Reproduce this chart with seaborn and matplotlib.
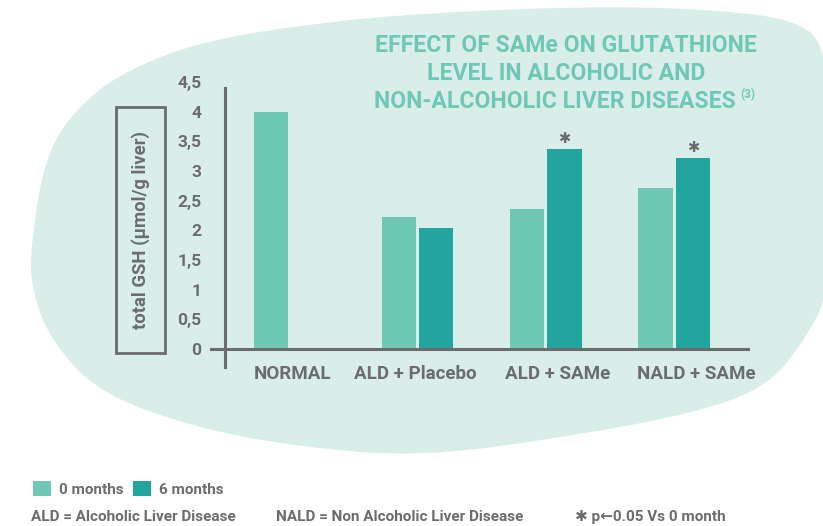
import numpy as np
import pandas as pd
import seaborn as sns
import matplotlib.pyplot as plt
import matplotlib.patches as mpatches
from matplotlib.path import Path
from matplotlib.transforms import ScaledTranslation
from matplotlib.ticker import FuncFormatter

OUTPUT_FILE = "out.png"

# data
groups = ["NORMAL", "ALD + Placebo", "ALD + SAMe", "NALD + SAMe"]
months_0 = [4.00, 2.23, 2.36, 2.71]
months_6 = [np.nan, 2.04, 3.37, 3.22]
significant_6 = [False, False, True, True]
series_names = ["0 months", "6 months"]
y_ticks = [0, 0.5, 1, 1.5, 2, 2.5, 3, 3.5, 4, 4.5]

title_lines = ["EFFECT OF SAMe ON GLUTATHIONE",
               "LEVEL IN ALCOHOLIC AND",
               "NON-ALCOHOLIC LIVER DISEASES"]
title_ref = "(3)"
y_label = "total GSH (µmol/g liver)"
notes = ["ALD = Alcoholic Liver Disease",
         "NALD = Non Alcoholic Liver Disease",
         "\u2731 p\u21900.05 Vs 0 month"]

# colours
LIGHT = "#6fc8b5"
DARK = "#23a59f"
BLOB = "#daeee9"
GREY = "#6b6c6e"

df = pd.DataFrame({
    "Group": groups * 2,
    "Period": [series_names[0]] * 4 + [series_names[1]] * 4,
    "GSH": months_0 + months_6,
})

W, H = 823, 526


def px(x, y):
    # pixel position (top-left origin) -> figure fraction
    return x / W, 1 - y / H


sns.set_style("white")
plt.rcParams["font.family"] = ["Roboto", "DejaVu Sans"]
plt.rcParams["font.weight"] = "bold"

fig = plt.figure(figsize=(W / 100, H / 100), dpi=100)

# ---- background blob (decoration) ----
blob_pts = [(30, 250), (46, 150), (86, 98), (132, 68), (200, 42), (300, 25),
            (420, 13), (600, 6), (720, 10), (795, 20), (826, 45), (832, 150),
            (830, 290), (808, 335), (770, 385), (700, 412), (567, 437),
            (420, 457), (300, 447), (200, 429), (100, 394), (50, 340), (32, 290)]
ctrl = [px(x, y) for x, y in blob_pts]
n = len(ctrl)
mid = lambda a, b: ((a[0] + b[0]) / 2, (a[1] + b[1]) / 2)
verts = [mid(ctrl[-1], ctrl[0])]
codes = [Path.MOVETO]
for i in range(n):
    verts += [ctrl[i], mid(ctrl[i], ctrl[(i + 1) % n])]
    codes += [Path.CURVE3, Path.CURVE3]
verts.append(verts[0])
codes.append(Path.CLOSEPOLY)
fig.patches.append(mpatches.PathPatch(Path(verts, codes), transform=fig.transFigure,
                                      facecolor=BLOB, edgecolor="none", zorder=-5))

# ---- axes ----
l, b = px(211, 367)
r, t = px(748, 79)
ax = fig.add_axes([l, b, r - l, t - b])
ax.patch.set_alpha(0)

sns.barplot(data=df, x="Group", y="GSH", hue="Period", order=groups,
            hue_order=series_names, palette=[LIGHT, DARK], width=0.58, gap=0.08,
            saturation=1, errorbar=None, linewidth=0, ax=ax)

ax.set_xlim(-0.61, 3.575)
ax.set_ylim(-0.3, 4.55)
ax.set_xlabel("")
ax.set_ylabel("")

for s in ["top", "right"]:
    ax.spines[s].set_visible(False)
ax.spines["bottom"].set_position(("data", 0))
ax.spines["left"].set_position(("data", -0.5))
ax.spines["left"].set_bounds(-0.3, 4.4)
for s in ["bottom", "left"]:
    ax.spines[s].set_color(GREY)
    ax.spines[s].set_linewidth(2.2)
    ax.spines[s].set_zorder(5)

ax.set_yticks(y_ticks)
ax.yaxis.set_major_formatter(FuncFormatter(lambda v, p: f"{v:g}".replace(".", ",")))
ax.tick_params(axis="y", length=0, pad=17, labelsize=12.5, labelcolor=GREY)
ax.tick_params(axis="x", length=0, pad=11.5, labelsize=13.5, labelcolor=GREY)
for lab in ax.get_yticklabels() + ax.get_xticklabels():
    lab.set_fontweight("bold")
# x labels sit slightly off their bar groups in the original
label_shift = [3, -2, 12, 22]
for lab, dx in zip(ax.get_xticklabels(), label_shift):
    lab.set_transform(lab.get_transform() + ScaledTranslation(dx / 100, 0, fig.dpi_scale_trans))

# significance stars above the 6-month bars
for i, (v, sig) in enumerate(zip(months_6, significant_6)):
    if sig:
        ax.annotate("\u2731", xy=(i + 0.145, v), xytext=(0, 2), textcoords="offset points",
                    ha="center", va="bottom", fontsize=10.5, color=GREY,
                    family=["DejaVu Sans"])

# ---- legend ----
sns.move_legend(ax, "center left", bbox_to_anchor=px(33, 489),
                bbox_transform=fig.transFigure, ncol=2, frameon=False, title=None,
                fontsize=11, handlelength=1.18, handleheight=1.15, handletextpad=0.5,
                columnspacing=0.65, borderpad=0, borderaxespad=0)
for txt in ax.get_legend().get_texts():
    txt.set_color(GREY)
    txt.set_fontweight("bold")

# ---- notes ----
for x, s in zip([31, 276, 575], notes):
    fig.text(*px(x, 517), s, ha="left", va="center", fontsize=11, color=GREY,
             fontweight="bold", family=["Roboto", "DejaVu Sans"])

# ---- y label in its box ----
x0, y0 = px(116, 353)
x1, y1 = px(165, 107)
fig.patches.append(mpatches.Rectangle((x0, y0), x1 - x0, y1 - y0, transform=fig.transFigure,
                                      facecolor="none", edgecolor=GREY, linewidth=2, zorder=3))
fig.text(*px(141, 230), y_label, rotation=90, ha="center", va="center",
         fontsize=13.3, color=GREY, fontweight="bold")

# ---- title ----
for y, line in zip([46, 73], title_lines[:2]):
    fig.text(*px(566, y), line, ha="center", va="center", fontsize=16.6,
             color=LIGHT, fontweight="bold")
t3 = fig.text(*px(555, 101), title_lines[2], ha="center", va="center", fontsize=16.6,
              color=LIGHT, fontweight="bold")
ax.annotate(title_ref, xy=(1, 1), xycoords=t3, xytext=(3, 1), textcoords="offset points",
            ha="left", va="top", fontsize=8.5, color=LIGHT, fontweight="bold",
            annotation_clip=False)

fig.savefig(OUTPUT_FILE, dpi=100)
